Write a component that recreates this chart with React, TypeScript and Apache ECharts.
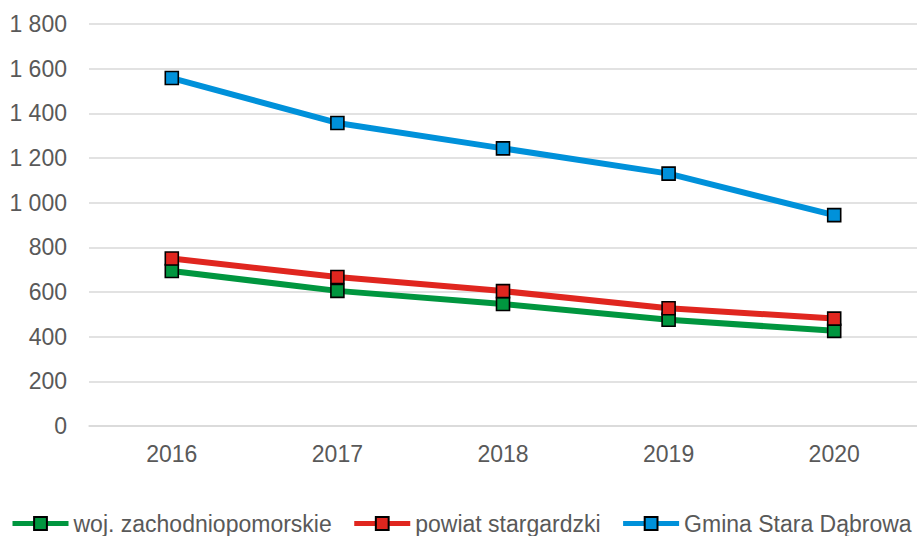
import React, { useEffect, useRef } from "react";
import * as echarts from "echarts";

const categories = ["2016", "2017", "2018", "2019", "2020"];
const seriesNames = ["woj. zachodniopomorskie", "powiat stargardzki", "Gmina Stara Dąbrowa"];
const wojValues = [694, 605, 546, 476, 426];
const powiatValues = [750, 667, 604, 527, 481];
const gminaValues = [1558, 1357, 1243, 1130, 944];
const seriesColors = ["#00963F", "#E0261F", "#0091DA"];

const fmt = (v: number) => String(v).replace(/\B(?=(\d{3})+(?!\d))/g, " ");

export default function App() {
  const ref = useRef<HTMLDivElement>(null);
  useEffect(() => {
    if (!ref.current) return;
    const chart = echarts.init(ref.current, null, { renderer: "svg" });
    const font = "'Liberation Sans', Arial, sans-serif";
    const mk = (name: string, data: number[], color: string) => ({
      name,
      type: "line",
      data,
      symbol: "rect",
      symbolSize: 13,
      lineStyle: { color, width: 6 },
      itemStyle: { color, borderColor: "#000", borderWidth: 1.6 },
    });
    chart.setOption({
      animation: false,
      grid: { left: 89, right: 0, top: 24, bottom: 110 },
      xAxis: {
        type: "category",
        data: categories,
        boundaryGap: true,
        axisLine: { show: true, lineStyle: { color: "#d9d9d9", width: 1.5 } },
        axisTick: { show: false },
        axisLabel: { color: "#595959", fontSize: 23, fontFamily: font, margin: 16 },
      },
      yAxis: {
        type: "value",
        min: 0,
        max: 1800,
        interval: 200,
        axisLine: { show: false },
        axisTick: { show: false },
        splitLine: { lineStyle: { color: "#d9d9d9", width: 1.5 } },
        axisLabel: { color: "#595959", fontSize: 23, fontFamily: font, margin: 22, formatter: (v: number) => fmt(v) },
      },
      legend: {
        bottom: 1,
        left: 10,
        width: 910,
        padding: 0,
        itemWidth: 56,
        itemHeight: 16,
        itemGap: 20,
        lineStyle: { width: 5 },
        textStyle: { color: "#595959", fontSize: 23, fontFamily: font },
        data: seriesNames,
      },
      series: [
        mk(seriesNames[0], wojValues, seriesColors[0]),
        mk(seriesNames[1], powiatValues, seriesColors[1]),
        mk(seriesNames[2], gminaValues, seriesColors[2]),
      ],
    });
    return () => chart.dispose();
  }, []);
  return <div ref={ref} style={{ width: 917, height: 536, position: "absolute", left: 0, top: 0 }} />;
}
